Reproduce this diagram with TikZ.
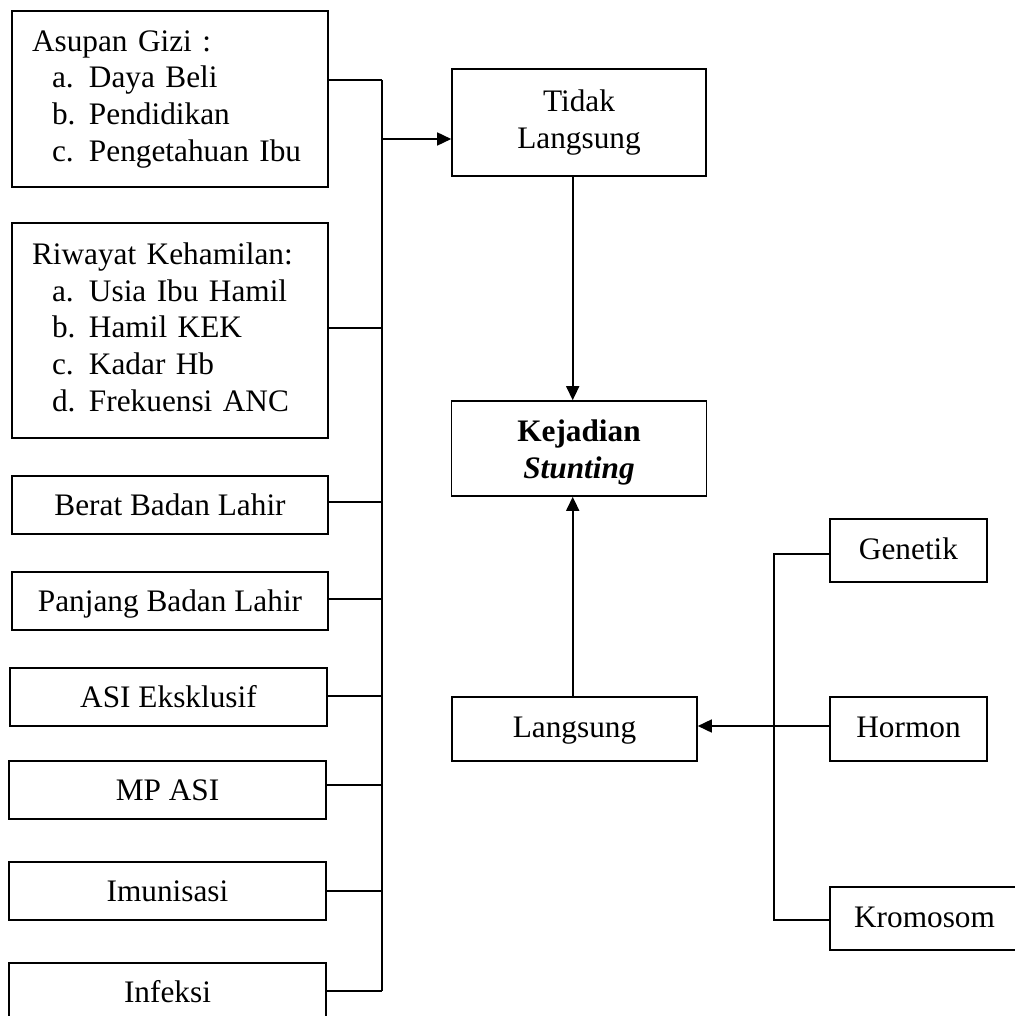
\documentclass[tikz,border=0pt]{standalone}
\usepackage{fontspec}
\setmainfont{Liberation Serif}
\usetikzlibrary{arrows.meta}
\begin{document}
\begin{tikzpicture}[x=1pt,y=-1pt]
\tikzset{
  base/.style={draw, line width=1.6pt, font=\fontsize{31.3pt}{36.7pt}\selectfont, inner sep=0pt},
  listbox/.style={base, align=left, text width=276pt, inner xsep=20pt, minimum width=316pt},
  onebox/.style={base, minimum height=58pt, text height=21.4pt, text depth=0pt},
  rbox/.style={base, text height=21.4pt, text depth=4.4pt},
  cbox/.style={base, align=center},
  conn/.style={line width=1.6pt},
  arr/.style={conn, -{Triangle[length=14pt,width=13pt]}}
}
\fill[white] (0,0) rectangle (1014,1016);
\useasboundingbox (0,0) rectangle (1014,1016);

% left column
\node[listbox, minimum height=176pt] (asupan) at (170,99) {\strut Asupan Gizi :\\
\hspace*{20pt}\makebox[37pt][l]{a.}Daya Beli\\
\hspace*{20pt}\makebox[37pt][l]{b.}Pendidikan\\
\hspace*{20pt}\makebox[37pt][l]{c.}Pengetahuan Ibu\strut};
\node[listbox, minimum height=215pt] (riwayat) at (170,330.5) {\strut Riwayat Kehamilan:\\
\hspace*{20pt}\makebox[37pt][l]{a.}Usia Ibu Hamil\\
\hspace*{20pt}\makebox[37pt][l]{b.}Hamil KEK\\
\hspace*{20pt}\makebox[37pt][l]{c.}Kadar Hb\\
\hspace*{20pt}\makebox[37pt][l]{d.}Frekuensi ANC\strut};
\node[onebox, minimum width=316pt] (berat) at (170,505) {Berat Badan Lahir};
\node[onebox, minimum width=316pt] (panjang) at (170,601) {Panjang Badan Lahir};
\node[onebox, minimum width=317pt] (asi) at (168.5,697) {ASI Eksklusif};
\node[onebox, minimum width=317pt] (mpasi) at (167.5,790) {MP ASI};
\node[onebox, minimum width=317pt] (imun) at (167.5,891) {Imunisasi};
\node[onebox, minimum width=317pt] (infeksi) at (167.5,992) {Infeksi};

% middle column
\node[cbox, minimum width=254pt, minimum height=107pt] (tidak) at (579,122.5) {\strut Tidak\\Langsung\strut};
\node[cbox, minimum width=255pt, minimum height=95pt] (kejadian) at (579,448.5) {\rule[-11pt]{0pt}{44.7pt}\textbf{Kejadian}\\\textbf{\textit{Stunting}}\strut};
\node[rbox, minimum width=245pt, minimum height=64pt] (langsung) at (574.5,729) {Langsung};

% right column
\node[rbox, minimum width=157pt, minimum height=63pt] (genetik) at (908.5,550.5) {Genetik};
\node[rbox, minimum width=157pt, minimum height=64pt] (hormon) at (908.5,729) {Hormon};
\node[rbox, minimum width=189pt, minimum height=63pt] (kromosom) at (924.5,918.5) {Kromosom};

% left bus
\coordinate (b1) at (382,80);
\coordinate (b2) at (382,328);
\coordinate (b3) at (382,502);
\coordinate (b4) at (382,599);
\coordinate (b5) at (382,696);
\coordinate (b6) at (382,785);
\coordinate (b7) at (382,891);
\coordinate (b8) at (382,991);
\coordinate (ta) at (382,139);
\draw[conn] (asupan.east |- b1) -- (b1);
\draw[conn] (riwayat.east |- b2) -- (b2);
\draw[conn] (berat.east |- b3) -- (b3);
\draw[conn] (panjang.east |- b4) -- (b4);
\draw[conn] (asi.east |- b5) -- (b5);
\draw[conn] (mpasi.east |- b6) -- (b6);
\draw[conn] (imun.east |- b7) -- (b7);
\draw[conn] (infeksi.east |- b8) -- (b8);
\draw[conn] (b1) -- (b8);
\draw[arr] (ta) -- (tidak.west |- ta);

% vertical arrows
\coordinate (jx) at (572.7,0);
\draw[arr] (tidak.south -| jx) -- (kejadian.north -| jx);
\draw[arr] (langsung.north -| jx) -- (kejadian.south -| jx);

% right bus
\coordinate (r1) at (774,554);
\coordinate (r2) at (774,726);
\coordinate (r3) at (774,920);
\draw[conn] (genetik.west |- r1) -- (r1) -- (r3) -- (kromosom.west |- r3);
\draw[arr] (hormon.west |- r2) -- (langsung.east |- r2);
\end{tikzpicture}
\end{document}
